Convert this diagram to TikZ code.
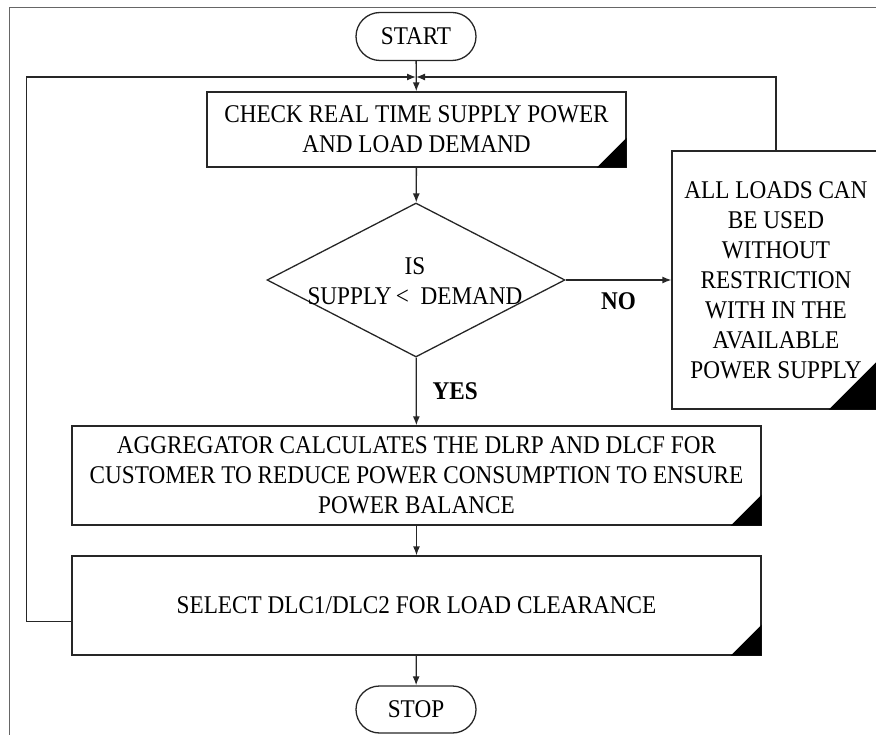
\documentclass[tikz,border=0pt]{standalone}
\usepackage{fontspec}
\setmainfont{Liberation Serif}[FakeStretch=0.91]
\usetikzlibrary{shapes.geometric,shapes.misc,arrows.meta,calc}

\begin{document}
\begin{tikzpicture}[x=1pt,y=-1pt,
  font=\fontsize{25.5}{30}\selectfont,
  line/.style={draw=black!85, line width=1.3pt},
  arr/.style={line, -{Latex[length=9pt,width=7pt]}},
  box/.style={line, rectangle, align=center, inner sep=0pt, fill=white},
  term/.style={line, rounded rectangle, minimum width=120pt, minimum height=48pt, inner sep=0pt},
  lab/.style={font=\fontsize{25.5}{30}\selectfont\bfseries}
]
\useasboundingbox (0,0) rectangle (876,735);
\clip (0,0) rectangle (876,735);

% outer frame
\draw[black!60, line width=1pt] (9,745) -- (9,8) -- (885,8);

% nodes
\node[term] (start) at (416,36.5) {START};
\node[box, minimum width=419pt, minimum height=75pt] (check) at (416.5,129.5)
  {CHECK REAL TIME SUPPLY POWER\\AND LOAD DEMAND};
\node[line, diamond, minimum width=298pt, minimum height=154pt, inner sep=0pt] (dec) at (416,280) {};
\node[align=center, inner sep=0pt] (dectext) at (415,281) {IS\\SUPPLY\,<\ \ DEMAND};
\node[box, minimum width=208pt, minimum height=258pt] (res) at (776,280)
  {ALL LOADS CAN\\BE USED\\WITHOUT\\RESTRICTION\\WITH IN THE\\AVAILABLE\\POWER SUPPLY};
\node[box, minimum width=689pt, minimum height=99pt] (agg) at (416.5,475.5)
  {AGGREGATOR CALCULATES THE DLRP AND DLCF FOR\\CUSTOMER TO REDUCE POWER CONSUMPTION TO ENSURE\\POWER BALANCE};
\node[box, minimum width=689pt, minimum height=99pt] (sel) at (416.5,605.5)
  {SELECT DLC1/DLC2 FOR LOAD CLEARANCE};
\node[term, minimum height=47pt] (stop) at (416,709.5) {STOP};

% black corner triangles
\foreach \n/\s in {check/30pt, agg/31pt, sel/31pt, res/52pt}
  \fill[black] (\n.south east) -- ++(-\s,0pt) -- ++(\s,\s) -- cycle;

\coordinate (j) at (416,77);

% connectors
\draw[arr] (start) -- (check);
\draw[arr] ([yshift=-16pt]sel.west) -- ++(-45,0) |- (j);
\draw[arr] (res.north) |- (j);
\draw[arr] (check) -- (dec);
\draw[arr] (dec) -- (res) node[lab, midway, yshift=-21pt] {NO};
\draw[arr] (dec) -- (agg) node[lab, midway, xshift=39pt] {YES};
\draw[arr] (agg) -- (sel);
\draw[arr] (sel) -- (stop);
\end{tikzpicture}
\end{document}
